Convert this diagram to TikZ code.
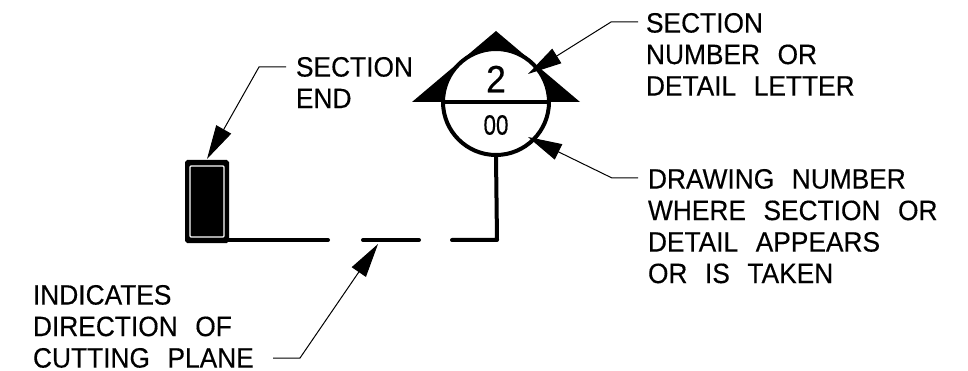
\documentclass[tikz,border=0pt]{standalone}
\usepackage{fontspec}
\setmainfont[FakeStretch=0.94,WordSpace=2.4,FakeBold=0.3]{Liberation Sans}
\usetikzlibrary{arrows.meta}
\tikzset{
  label text/.style={inner sep=0pt,outer sep=0pt,align=left,anchor=north west,font=\fontsize{28}{31.5}\selectfont},
  heavy/.style={line width=4pt,line cap=round,line join=round},
  leader/.style={line width=1pt,line join=miter},
  pointer/.style={leader,-{Triangle[length=34pt,width=17pt]}},
}
\begin{document}
\begin{tikzpicture}[x=1pt,y=-1pt]
\useasboundingbox (0,0) rectangle (968,371);
% bubble
\fill[black,line join=round] (496,31) -- (580,102) -- (412,102) -- cycle;
\node[circle,draw,fill=white,line width=4pt,minimum size=106pt,inner sep=0pt] (bubble) at (496,102) {};
\draw[heavy,line cap=butt] (bubble.west) -- (bubble.east);
\node[inner sep=0pt,font=\fontsize{38}{38}\selectfont] (num) at (496,79) {2};
\node[inner sep=0pt,font=\fontsize{28}{28}\selectfont] (sheet) at (496,125) {\addfontfeature{FakeStretch=0.8}00};
% section end
\node[draw,fill=black,line width=4pt,minimum width=40pt,minimum height=79pt,inner sep=0pt,rounded corners=1pt] (endbox) at (207,201.5) {};
\draw[white,line width=1.1pt,rounded corners=1pt] (190,166) rectangle (224,237);
% cutting line
\coordinate (c1) at (227,240);
\coordinate (c2) at (328,240);
\coordinate (c3) at (363,240);
\coordinate (c4) at (419,240);
\coordinate (c5) at (452,240);
\coordinate (c6) at (497,240);
\draw[heavy] (c1) -- (c2);
\draw[heavy] (c3) -- (c4);
\draw[heavy] (c5) -- (c6) -- (bubble.south);
% labels
\node[label text] (tend) at (296,57) {SECTION\\END};
\node[label text] (tnum) at (646,13) {SECTION\\NUMBER OR\\DETAIL LETTER};
\node[label text] (tdraw) at (648,169) {DRAWING NUMBER\\WHERE SECTION OR\\DETAIL APPEARS\\OR IS TAKEN};
\node[label text] (tcut) at (33,285) {INDICATES\\DIRECTION OF\\CUTTING PLANE};
% leaders
\coordinate (a1) at (286,67);   \coordinate (b1) at (259,67);   \coordinate (p1) at (207,159);
\coordinate (a2) at (638,22);   \coordinate (b2) at (611,22);   \coordinate (p2) at (528,74);
\coordinate (a3) at (638,178);  \coordinate (b3) at (612,178);  \coordinate (p3) at (528,137);
\coordinate (a4) at (273,358);  \coordinate (b4) at (300,358);  \coordinate (p4) at (378,244);
\draw[pointer] (a1) -- (b1) -- (p1);
\draw[pointer] (a2) -- (b2) -- (p2);
\draw[pointer] (a3) -- (b3) -- (p3);
\draw[pointer] (a4) -- (b4) -- (p4);
\end{tikzpicture}
\end{document}
